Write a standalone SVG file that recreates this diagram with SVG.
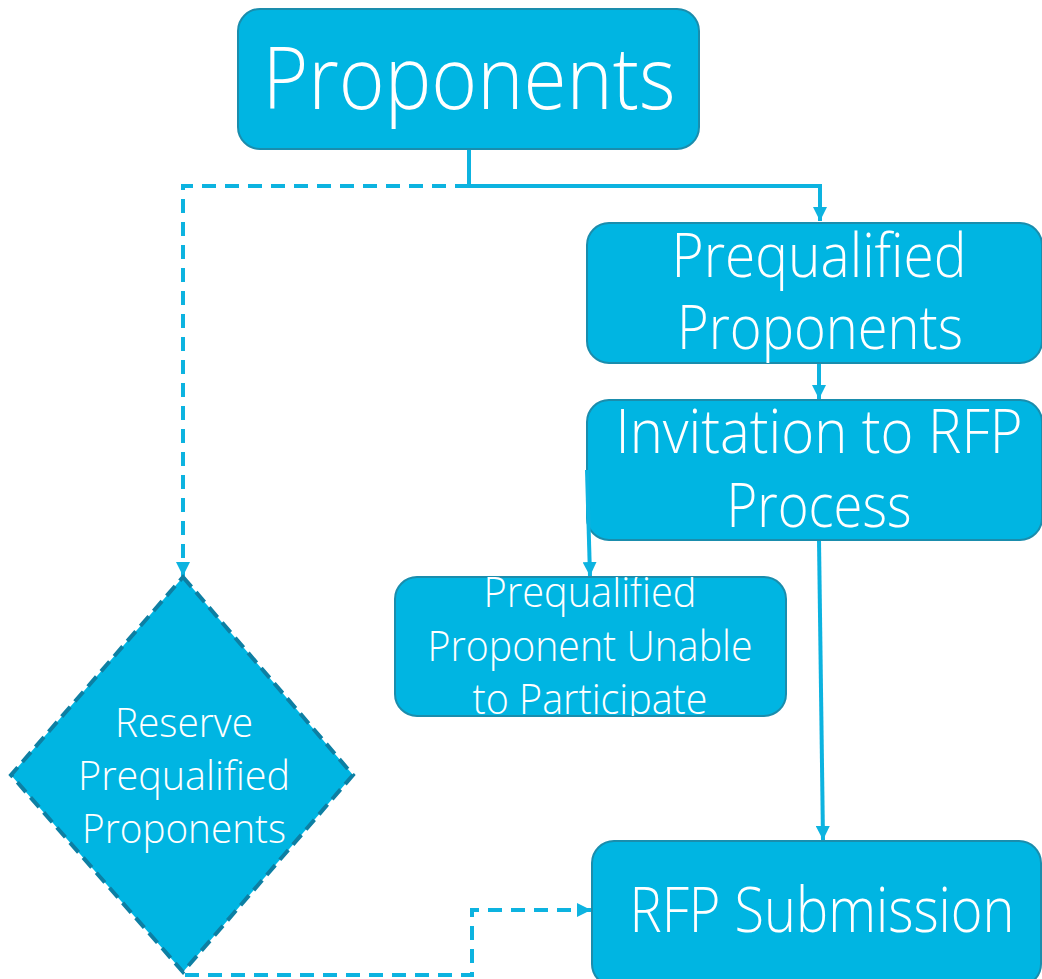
<svg xmlns="http://www.w3.org/2000/svg" width="1042" height="979" viewBox="0 0 1042 979">
<style>
.box{fill:#00B5E2;stroke:#1A8DAD;stroke-width:2}
.dia{fill:#00B5E2;stroke:#0D7FA3;stroke-width:4;stroke-dasharray:13 7}
.t{font-family:"Open Sans","Liberation Sans",sans-serif;font-weight:300;fill:#FFFFFF;text-anchor:middle}
.c{fill:none;stroke:#0DB3E0;stroke-width:4}
.d{stroke-dasharray:14 9}
</style>
<defs>
<marker id="ah" markerUnits="userSpaceOnUse" markerWidth="14" markerHeight="14" viewBox="0 0 10 10" refX="10" refY="5" orient="auto">
<path d="M0,0 L10,5 L0,10 z" fill="#0DB3E0"/>
</marker>
<clipPath id="clipU"><rect x="395" y="577" width="391" height="139" rx="22"/></clipPath>
</defs>
<g id="connectors">
<path class="c" d="M469,149 V186 H820 V221" marker-end="url(#ah)"/>
<path class="c d" d="M469,186 H183 V576" marker-end="url(#ah)"/>
<path class="c" d="M819,363 V399" marker-end="url(#ah)"/>
<path class="c" d="M819,540 L823,840" marker-end="url(#ah)"/>
<path class="c d" d="M185,975 H472 V910 H591" marker-end="url(#ah)"/>
</g>
<g id="proponents">
<rect class="box" x="238" y="9" width="461" height="140" rx="22"/>
<text class="t" x="469" y="109" font-size="86" textLength="413" lengthAdjust="spacingAndGlyphs">Proponents</text>
</g>
<g id="prequalified">
<rect class="box" x="587" y="223" width="455" height="140" rx="22"/>
<text class="t" x="819" y="277" font-size="60" textLength="295" lengthAdjust="spacingAndGlyphs">Prequalified</text>
<text class="t" x="820" y="349" font-size="60" textLength="286" lengthAdjust="spacingAndGlyphs">Proponents</text>
</g>
<g id="invitation">
<rect class="box" x="587" y="400" width="455" height="140" rx="22"/>
<text class="t" x="819" y="453" font-size="60" textLength="407" lengthAdjust="spacingAndGlyphs">Invitation to RFP</text>
<text class="t" x="819" y="527" font-size="60" textLength="185" lengthAdjust="spacingAndGlyphs">Process</text>
</g>
<path class="c" d="M587,470 L590,576" marker-end="url(#ah)"/>
<g id="unable">
<rect class="box" x="395" y="577" width="391" height="139" rx="22"/>
<g clip-path="url(#clipU)">
<text class="t" x="590" y="607" font-size="42" textLength="213" lengthAdjust="spacingAndGlyphs">Prequalified</text>
<text class="t" x="590" y="661" font-size="42" textLength="325" lengthAdjust="spacingAndGlyphs">Proponent Unable</text>
<text class="t" x="590" y="714" font-size="42" textLength="235" lengthAdjust="spacingAndGlyphs">to Participate</text>
</g>
</g>
<g id="reserve">
<polygon class="dia" points="183,577 353,775 183,972 11,775"/>
<text class="t" x="184" y="737" font-size="40" textLength="138" lengthAdjust="spacingAndGlyphs">Reserve</text>
<text class="t" x="184" y="790" font-size="40" textLength="212" lengthAdjust="spacingAndGlyphs">Prequalified</text>
<text class="t" x="184" y="843" font-size="40" textLength="204" lengthAdjust="spacingAndGlyphs">Proponents</text>
</g>
<g id="submission">
<rect class="box" x="592" y="841" width="449" height="145" rx="22"/>
<text class="t" x="822" y="932" font-size="62" textLength="385" lengthAdjust="spacingAndGlyphs">RFP Submission</text>
</g>
</svg>
